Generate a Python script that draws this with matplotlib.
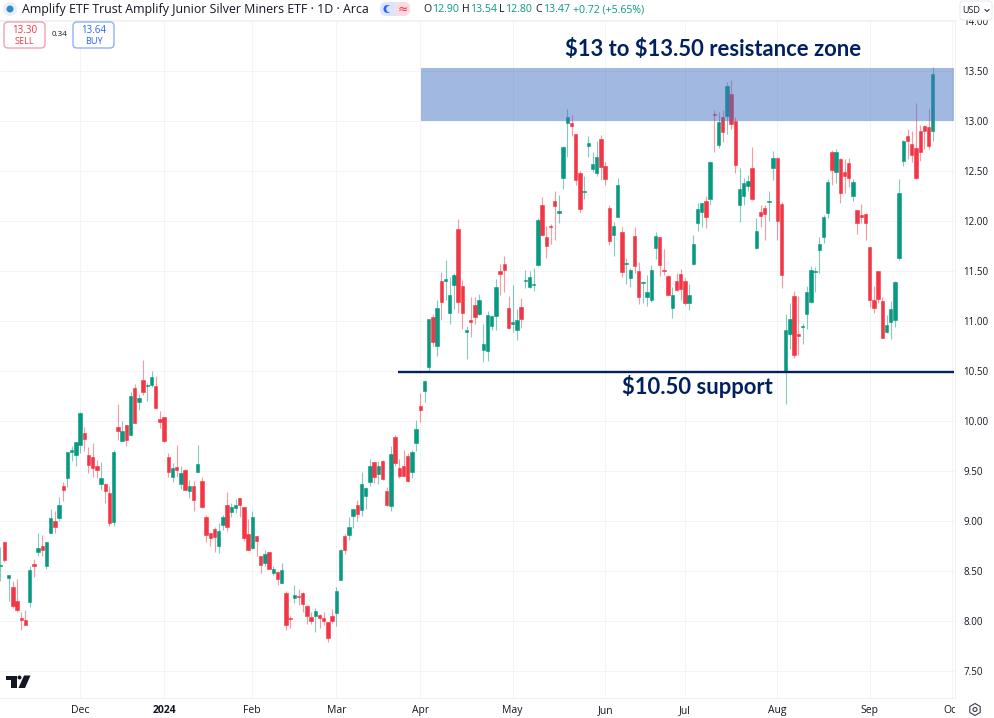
#!/usr/bin/env python3
"""Daily candles for the Amplify Junior Silver Miners ETF with support/resistance marks."""
import matplotlib
matplotlib.use('Agg')
import matplotlib.pyplot as plt
from matplotlib.patches import Rectangle, FancyBboxPatch, Polygon, Circle, RegularPolygon

opens = [8.55, 8.79, 8.43, 8.34, 8.20, 8.03, 8.01, 8.19, 8.57, 8.69, 8.75, 8.55, 8.88, 9.00, 9.03, 9.35, 9.43, 9.69, 9.66, 9.76,
         9.88, 9.66, 9.64, 9.55, 9.37, 9.37, 9.28, 8.99, 9.94, 9.80, 9.96, 9.86, 10.33, 10.19, 10.41, 10.35, 10.36, 10.35, 10.02, 10.04,
         9.64, 9.44, 9.54, 9.37, 9.51, 9.30, 9.35, 9.49, 9.40, 9.04, 8.88, 8.92, 8.75, 8.96, 9.16, 9.09, 9.13, 9.23, 9.14, 8.87,
         8.73, 8.85, 8.65, 8.58, 8.69, 8.48, 8.49, 8.38, 8.28, 8.03, 8.23, 8.25, 8.28, 8.15, 8.04, 8.05, 8.06, 8.03, 7.99, 8.05,
         8.08, 8.41, 8.85, 8.86, 9.05, 9.16, 9.11, 9.25, 9.39, 9.59, 9.47, 9.60, 9.30, 9.15, 9.84, 9.53, 9.55, 9.65, 9.49, 9.78,
         10.15, 10.30, 10.54, 11.04, 10.75, 11.40, 11.40, 11.08, 11.36, 11.92, 11.35, 10.89, 11.01, 11.16, 11.07, 10.71, 10.70, 10.95, 11.05, 11.50,
         11.57, 11.13, 10.97, 10.91, 11.14, 11.40, 11.34, 11.36, 11.56, 12.16, 11.84, 11.95, 12.20, 12.08, 12.43, 12.98, 12.98, 12.87, 12.48, 12.29,
         12.75, 12.52, 12.48, 12.82, 12.55, 12.13, 11.86, 12.04, 11.89, 11.57, 11.43, 11.85, 11.50, 11.38, 11.24, 11.21, 11.73, 11.84, 11.51, 11.45,
         11.13, 11.40, 11.47, 11.40, 11.18, 11.57, 11.98, 12.09, 12.20, 12.22, 13.07, 12.76, 13.04, 13.05, 13.27, 13.00, 12.16, 12.25, 12.35, 12.53,
         11.73, 12.09, 12.13, 12.19, 12.53, 12.63, 12.17, 10.49, 10.87, 11.25, 10.87, 10.94, 11.07, 11.19, 11.49, 11.71, 11.84, 12.08, 12.69, 12.49,
         12.62, 12.49, 12.58, 12.25, 12.11, 12.06, 12.07, 11.74, 11.21, 11.50, 11.20, 10.89, 10.99, 11.01, 11.63, 12.60, 12.85, 12.77, 12.73, 12.90,
         12.95, 12.94, 12.90]
closes = [8.56, 8.61, 8.46, 8.15, 8.11, 8.01, 7.96, 8.51, 8.55, 8.73, 8.71, 8.79, 9.03, 8.94, 9.16, 9.31, 9.69, 9.71, 9.79, 10.08,
          9.82, 9.56, 9.53, 9.51, 9.43, 9.30, 8.98, 9.69, 9.90, 9.90, 9.81, 10.25, 9.98, 10.23, 10.29, 10.36, 10.44, 10.13, 9.99, 9.80,
          9.49, 9.53, 9.51, 9.48, 9.31, 9.35, 9.21, 9.57, 9.14, 8.86, 8.83, 8.84, 8.90, 9.04, 8.94, 9.14, 9.16, 9.16, 8.83, 8.71,
          9.04, 8.80, 8.56, 8.67, 8.52, 8.52, 8.42, 8.51, 7.96, 8.02, 8.26, 8.24, 8.17, 8.05, 8.00, 8.10, 8.03, 8.00, 7.83, 8.00,
          8.30, 8.71, 8.71, 8.94, 9.12, 9.07, 9.37, 9.33, 9.55, 9.44, 9.55, 9.42, 9.16, 9.67, 9.58, 9.45, 9.45, 9.40, 9.69, 9.92,
          10.11, 10.40, 11.02, 10.79, 11.13, 11.19, 11.42, 11.26, 11.46, 11.19, 11.08, 10.91, 10.99, 11.04, 11.21, 10.77, 11.06, 11.05, 11.34, 11.47,
          11.51, 10.93, 10.99, 11.01, 11.02, 11.41, 11.44, 11.37, 12.01, 11.86, 11.75, 11.94, 12.15, 12.10, 12.74, 13.04, 12.95, 12.41, 12.12, 12.30,
          12.78, 12.57, 12.64, 12.54, 12.42, 11.80, 11.95, 12.36, 11.49, 11.58, 11.51, 11.55, 11.24, 11.39, 11.29, 11.51, 11.85, 11.56, 11.50, 11.26,
          11.26, 11.31, 11.32, 11.18, 11.26, 11.77, 12.12, 12.18, 12.04, 12.59, 13.06, 12.99, 12.89, 13.35, 12.97, 12.56, 12.32, 12.38, 12.40, 12.22,
          11.90, 12.05, 12.07, 12.20, 12.63, 12.00, 11.46, 10.91, 11.02, 10.66, 10.85, 10.95, 11.29, 11.51, 11.50, 11.77, 12.04, 12.39, 12.51, 12.69,
          12.28, 12.45, 12.43, 12.39, 11.98, 12.04, 11.98, 11.21, 11.13, 11.22, 10.83, 10.96, 11.12, 11.39, 12.28, 12.80, 12.80, 12.66, 12.43, 12.69,
          12.90, 12.75, 13.47]
highs = [8.74, 8.80, 8.46, 8.40, 8.42, 8.09, 8.11, 8.55, 8.62, 8.88, 8.86, 8.79, 9.12, 9.10, 9.24, 9.39, 9.69, 9.75, 9.79, 10.09,
         9.94, 9.74, 9.78, 9.61, 9.59, 9.38, 9.35, 9.71, 10.17, 10.00, 9.96, 10.29, 10.37, 10.27, 10.61, 10.38, 10.50, 10.45, 10.10, 10.04,
         9.68, 9.58, 9.76, 9.55, 9.52, 9.41, 9.40, 9.76, 9.44, 9.06, 8.88, 8.94, 8.98, 9.06, 9.29, 9.18, 9.22, 9.23, 9.14, 9.02,
         9.10, 8.85, 8.65, 8.71, 8.69, 8.55, 8.50, 8.58, 8.30, 8.05, 8.36, 8.32, 8.29, 8.16, 8.09, 8.13, 8.07, 8.09, 7.99, 8.12,
         8.34, 8.72, 8.87, 9.04, 9.12, 9.21, 9.49, 9.34, 9.62, 9.59, 9.60, 9.61, 9.34, 9.75, 9.86, 9.62, 9.71, 9.68, 9.71, 10.01,
         10.28, 10.41, 11.02, 11.07, 11.21, 11.49, 11.61, 11.44, 11.48, 12.02, 11.41, 10.95, 11.24, 11.24, 11.27, 10.97, 11.10, 11.06, 11.42, 11.57,
         11.65, 11.25, 11.36, 11.12, 11.23, 11.51, 11.50, 11.53, 12.03, 12.24, 11.95, 11.97, 12.30, 12.26, 12.75, 13.12, 13.06, 12.87, 12.50, 12.45,
         12.85, 12.69, 12.80, 12.86, 12.59, 12.16, 11.99, 12.43, 11.94, 11.63, 11.53, 11.94, 11.59, 11.40, 11.46, 11.56, 11.89, 11.84, 11.72, 11.46,
         11.34, 11.48, 11.52, 11.43, 11.37, 11.86, 12.18, 12.18, 12.25, 12.60, 13.11, 13.09, 13.11, 13.39, 13.41, 13.04, 12.53, 12.43, 12.46, 12.74,
         12.03, 12.16, 12.16, 12.30, 12.70, 12.64, 12.19, 11.07, 11.18, 11.30, 11.25, 10.98, 11.35, 11.55, 11.54, 11.84, 12.06, 12.42, 12.71, 12.72,
         12.63, 12.62, 12.63, 12.42, 12.11, 12.17, 12.08, 11.74, 11.35, 11.50, 11.24, 11.06, 11.20, 11.40, 12.42, 12.81, 12.92, 12.90, 13.18, 12.96,
         12.96, 13.12, 13.54]
lows = [8.40, 8.59, 8.20, 8.13, 8.09, 7.91, 7.96, 8.14, 8.44, 8.65, 8.65, 8.52, 8.88, 8.88, 9.00, 9.20, 9.34, 9.60, 9.55, 9.68,
        9.70, 9.48, 9.44, 9.43, 9.31, 9.18, 8.95, 8.95, 9.81, 9.80, 9.75, 9.85, 9.98, 10.11, 10.26, 10.20, 10.34, 10.12, 9.93, 9.79,
        9.44, 9.39, 9.44, 9.32, 9.31, 9.23, 9.10, 9.49, 9.13, 8.79, 8.75, 8.69, 8.68, 8.91, 8.90, 9.04, 9.08, 9.04, 8.80, 8.71,
        8.72, 8.65, 8.48, 8.55, 8.52, 8.46, 8.36, 8.38, 7.91, 7.93, 8.18, 8.16, 8.09, 7.97, 7.97, 7.89, 7.93, 7.96, 7.79, 7.98,
        7.95, 8.41, 8.67, 8.81, 8.93, 9.00, 9.05, 9.12, 9.35, 9.38, 9.37, 9.41, 9.15, 9.10, 9.55, 9.43, 9.45, 9.39, 9.43, 9.70,
        9.99, 10.19, 10.50, 10.75, 10.65, 11.01, 11.21, 10.97, 11.12, 11.08, 10.92, 10.62, 10.84, 10.97, 11.06, 10.59, 10.60, 10.91, 10.91, 11.26,
        11.29, 10.92, 10.89, 10.81, 10.93, 11.33, 11.33, 11.30, 11.55, 11.85, 11.63, 11.77, 11.81, 11.98, 12.32, 12.64, 12.85, 12.36, 12.08, 12.22,
        12.64, 12.49, 12.45, 12.41, 12.36, 11.76, 11.65, 12.04, 11.44, 11.37, 11.34, 11.48, 11.17, 11.18, 11.15, 11.19, 11.62, 11.45, 11.46, 11.26,
        11.03, 11.30, 11.21, 11.16, 11.11, 11.56, 11.90, 11.94, 11.93, 12.16, 12.69, 12.73, 12.79, 12.87, 12.92, 12.48, 11.99, 12.16, 12.30, 12.21,
        11.72, 11.94, 11.81, 12.00, 12.41, 11.81, 11.33, 10.17, 10.72, 10.63, 10.66, 10.77, 10.92, 11.18, 11.29, 11.48, 11.78, 12.03, 12.36, 12.38,
        12.18, 12.28, 12.34, 12.20, 11.87, 11.98, 11.81, 11.14, 11.08, 11.18, 10.83, 10.88, 10.82, 10.94, 11.61, 12.55, 12.62, 12.59, 12.42, 12.60,
        12.72, 12.72, 12.80]

month_pos = [19, 39, 60, 80, 100, 122, 144, 163, 185, 207, 226.6]
month_labels = ['Dec', '2024', 'Feb', 'Mar', 'Apr', 'May', 'Jun', 'Jul', 'Aug', 'Sep', 'Oct']
price_ticks = [7.5, 8.0, 8.5, 9.0, 9.5, 10.0, 10.5, 11.0, 11.5, 12.0, 12.5, 13.0, 13.5, 14.0]

zone_low, zone_high = 13.0, 13.53
support = 10.49

UP = '#089981'
DOWN = '#f23645'
NAVY = '#002060'
GRID = '#f3f4f6'
TEXT = '#131722'
plt.rcParams['font.family'] = ['Open Sans', 'DejaVu Sans']

W, H = 994, 718
fig = plt.figure(figsize=(W / 100, H / 100), dpi=100, facecolor='white')
ax = fig.add_axes([0, 1 - 698 / H, 955 / W, (698 - 20) / H])
ax.set_xlim(-0.07, 227.3)
ax.set_ylim(7.23, 14.01)

xs = list(range(len(opens)))
for x, o, h, l, c in zip(xs, opens, highs, lows, closes):
    color = UP if c >= o else DOWN
    ax.vlines(x, l, h, color=color, lw=0.8, alpha=0.5, zorder=2)
    ax.bar(x, abs(c - o), bottom=min(o, c), width=0.78, color=color, edgecolor=color, lw=0.4, zorder=3)

ax.set_xticks(month_pos)
ax.set_xticklabels(month_labels, fontsize=7.5, color=TEXT)
ax.get_xticklabels()[1].set_fontweight('bold')
ax.set_yticks(price_ticks)
ax.set_yticklabels([f'{p:.2f}' for p in price_ticks], fontsize=7, color=TEXT)
ax.yaxis.tick_right()
ax.tick_params(axis='both', length=0)
ax.tick_params(axis='x', pad=5)
ax.tick_params(axis='y', pad=6)
ax.grid(True, color=GRID, lw=0.72, zorder=0)
ax.set_axisbelow(True)
ax.spines['left'].set_visible(False)
for side in ['top', 'right', 'bottom']:
    ax.spines[side].set_color('#eef0f4')
    ax.spines[side].set_linewidth(0.7)

# resistance zone and support line
ax.add_patch(Rectangle((100.17, zone_low), 227.07 - 100.17, zone_high - zone_low,
                       facecolor='#4472c4', alpha=0.5, edgecolor='none', zorder=4))
ax.hlines(support, 94.7, 227.07, color=NAVY, lw=1.7, zorder=5)
ax.text(169.8, 13.71, r'\$13 to \$13.50 resistance zone', color=NAVY, fontsize=15.8, family='Lato',
        fontweight='bold', ha='center', va='center', zorder=6)
ax.text(166.0, 10.35, r'\$10.50 support', color=NAVY, fontsize=15.8, family='Lato',
        fontweight='bold', ha='center', va='center', zorder=6)

# everything around the chart, in pixel coordinates
ov = fig.add_axes([0, 0, 1, 1], zorder=10)
ov.set_xlim(0, W)
ov.set_ylim(H, 0)
ov.axis('off')

ov.add_patch(Rectangle((955, 699), 39, 19, facecolor='white', edgecolor='none'))
ov.add_patch(RegularPolygon((975, 709.5), 6, radius=6, facecolor='white', edgecolor='#3b3f4a', lw=0.8))
ov.add_patch(Circle((975, 709.5), 2, facecolor='white', edgecolor='#3b3f4a', lw=0.8))

# USD box
ov.add_patch(FancyBboxPatch((960, 1), 32, 19, boxstyle='round,pad=0,rounding_size=3',
                            facecolor='white', edgecolor='#e6e8ec', lw=0.7))
ov.text(962, 10.5, 'USD', fontsize=6.5, color=TEXT, va='center')
ov.plot([985, 987, 989], [9.5, 11.5, 9.5], color=TEXT, lw=0.7)

# symbol line
ov.add_patch(Circle((10, 9), 7, facecolor='#e9eef8', edgecolor='none'))
ov.add_patch(Circle((10, 9), 3.5, facecolor='#2a8fc9', edgecolor='none'))
ov.text(22, 9.5, 'Amplify ETF Trust Amplify Junior Silver Miners ETF · 1D · Arca', fontsize=8.9,
        color=TEXT, va='center')
ov.add_patch(FancyBboxPatch((380, 2), 30, 14, boxstyle='round,pad=0,rounding_size=7',
                            facecolor='#dbe6fb', edgecolor='none'))
ov.add_patch(FancyBboxPatch((395, 2), 15, 14, boxstyle='round,pad=0,rounding_size=6',
                            facecolor='#fbdbe3', edgecolor='none'))
ov.add_patch(Circle((387.5, 9), 4, facecolor='#2962ff', edgecolor='none'))
ov.add_patch(Circle((389.5, 9), 3.3, facecolor='#dbe6fb', edgecolor='none'))
ov.text(402.5, 9, '≈', fontsize=9, color='#f23645', ha='center', va='center', family='DejaVu Sans')

for px_label, px_value, label, value in [(423, 432, 'O', '12.90'), (462, 470, 'H', '13.54'),
                                         (499, 505, 'L', '12.80'), (535, 543, 'C', '13.47')]:
    ov.text(px_label, 9.5, label, fontsize=7.6, color=TEXT, va='center')
    ov.text(px_value, 9.5, value, fontsize=7.6, color=UP, va='center')
ov.text(573, 9.5, '+0.72 (+5.65%)', fontsize=7.6, color=UP, va='center')

# order buttons
ov.add_patch(FancyBboxPatch((4, 22), 41, 26, boxstyle='round,pad=0,rounding_size=4',
                            facecolor='white', edgecolor='#f7a1aa', lw=1))
ov.text(24.5, 30.5, '13.30', fontsize=7, color=DOWN, ha='center', va='center')
ov.text(24.5, 41.5, 'SELL', fontsize=6.6, color=DOWN, ha='center', va='center')
ov.text(59, 35, '0.34', fontsize=5.8, color=TEXT, ha='center', va='center')
ov.add_patch(FancyBboxPatch((73, 22), 41, 26, boxstyle='round,pad=0,rounding_size=4',
                            facecolor='white', edgecolor='#8fb0fb', lw=1))
ov.text(93.5, 30.5, '13.64', fontsize=7, color='#2962ff', ha='center', va='center')
ov.text(93.5, 41.5, 'BUY', fontsize=6.6, color='#2962ff', ha='center', va='center')

# TradingView mark
ov.add_patch(Polygon([(6, 675.5), (16.5, 675.5), (16.5, 688), (11, 688), (11, 679.5), (6, 679.5)],
                     facecolor='#131722', edgecolor='none'))
ov.add_patch(Circle((19.5, 677.5), 2, facecolor='#131722', edgecolor='none'))
ov.add_patch(Polygon([(24, 675.5), (30.5, 675.5), (25, 688), (18.5, 688)], facecolor='#131722', edgecolor='none'))

fig.savefig('out.png', dpi=100)
